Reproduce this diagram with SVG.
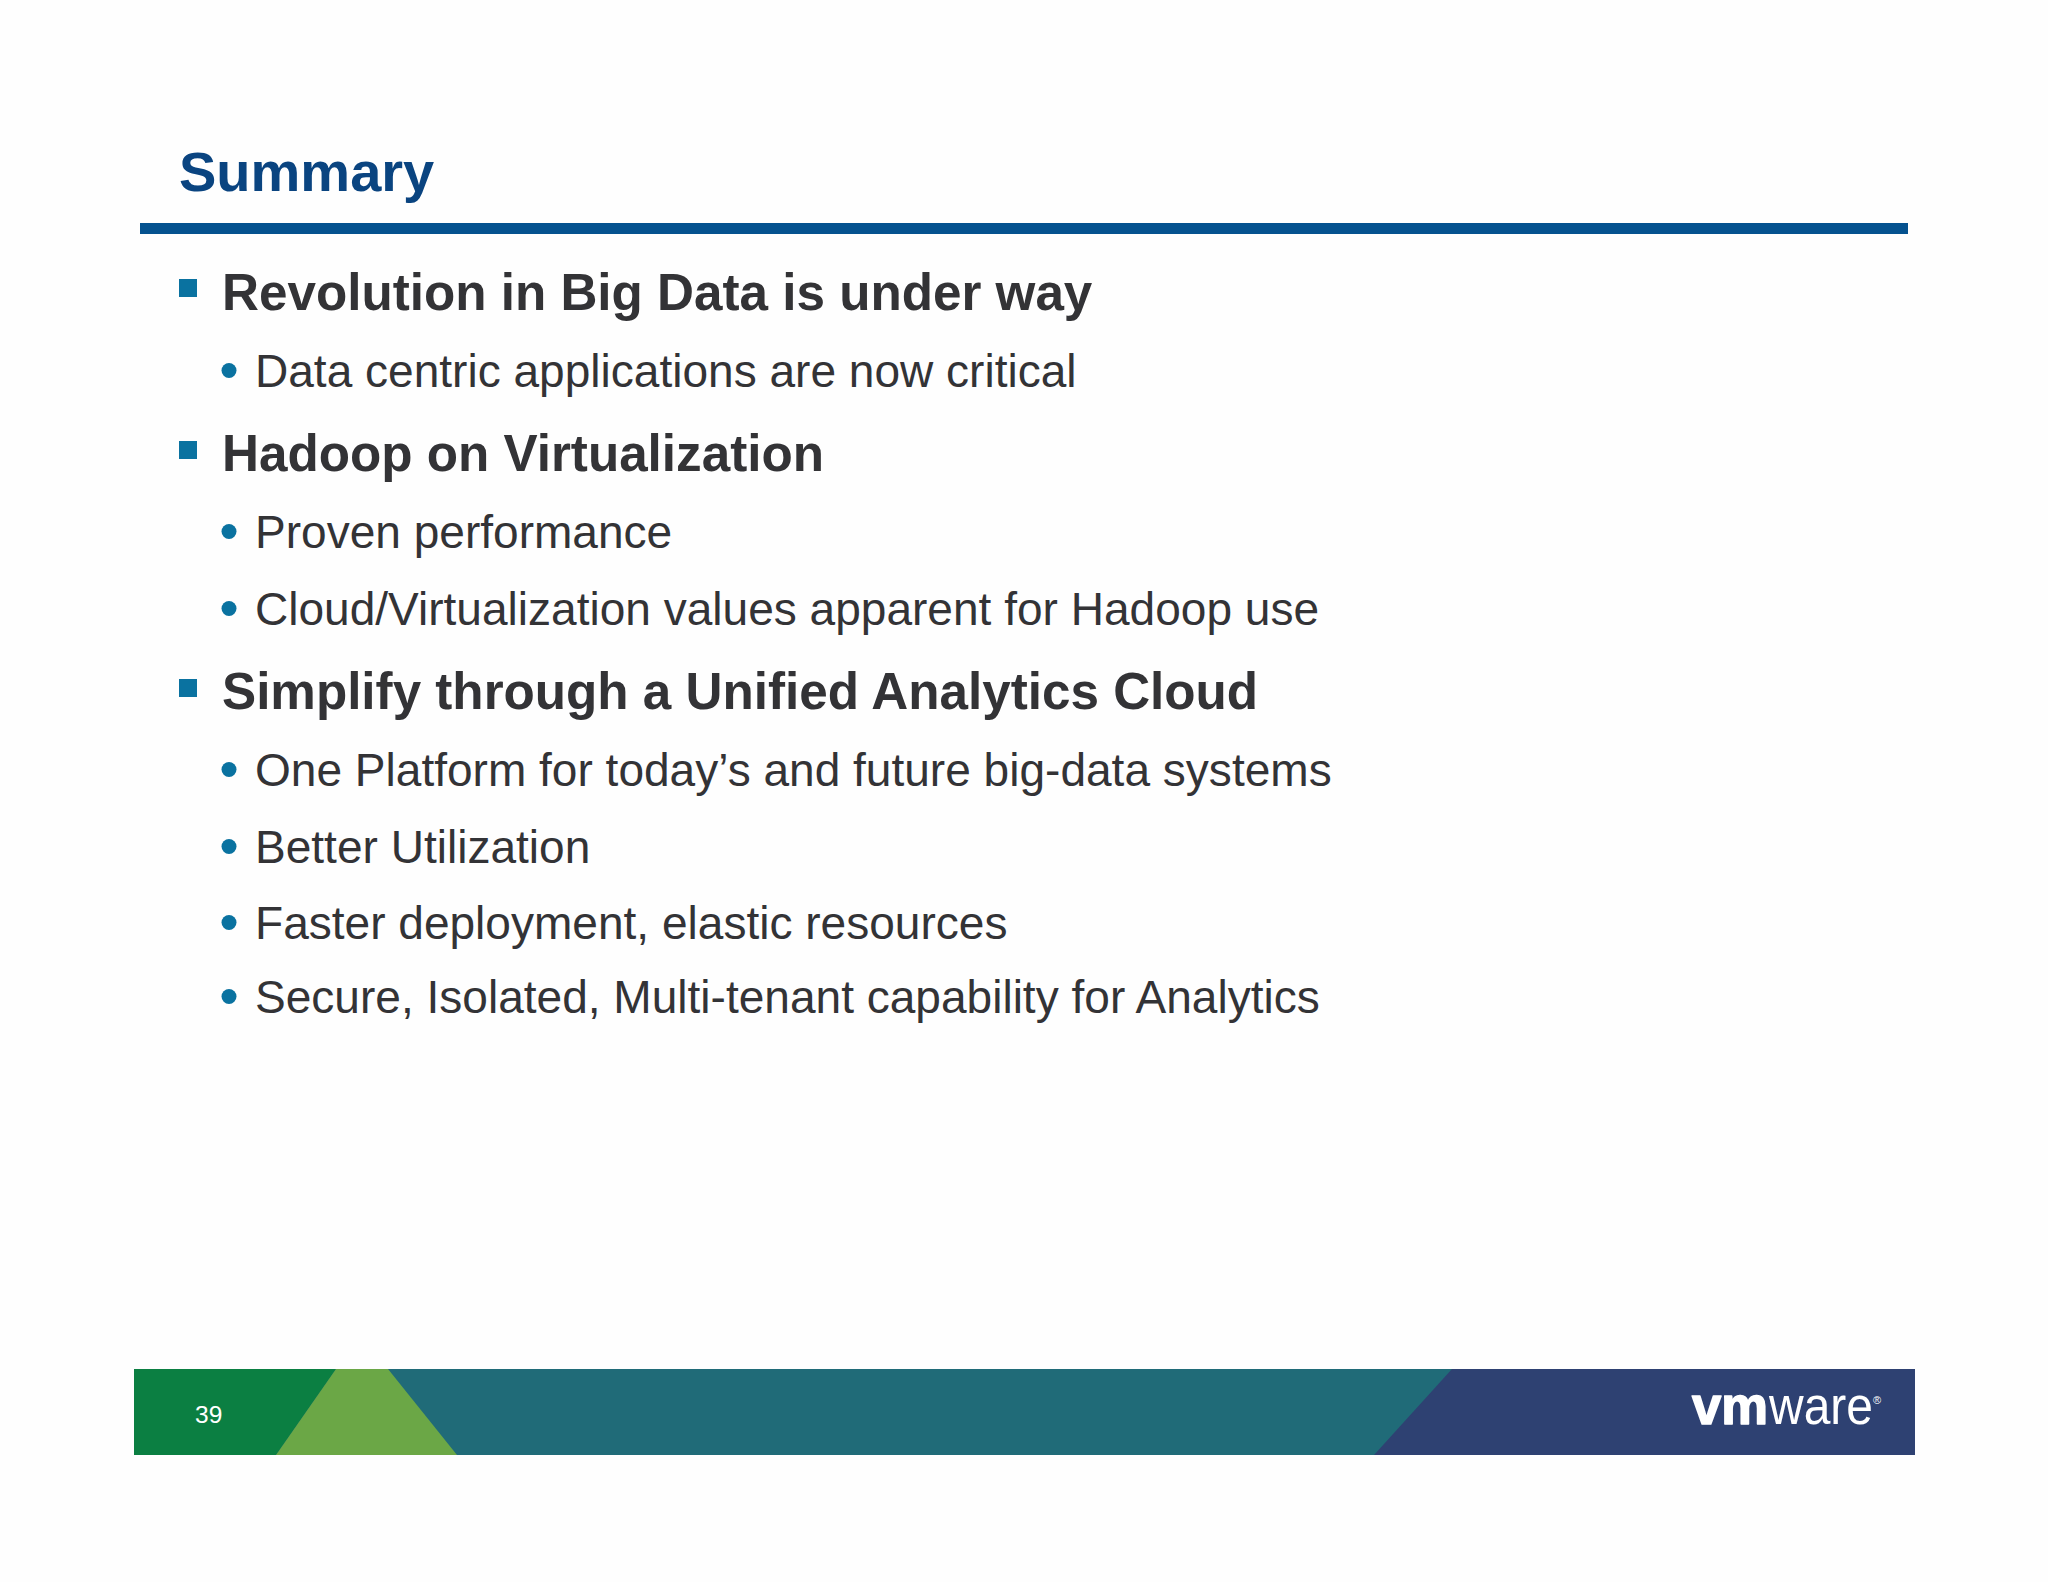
<svg xmlns="http://www.w3.org/2000/svg" width="2048" height="1582" viewBox="0 0 2048 1582">
<style>
text{font-family:"Liberation Sans",Arial,sans-serif}
.h{font-size:51.2px;font-weight:700;fill:#333336}
.b{font-size:46.05px;fill:#333336}
.s{fill:#0a72a0}
</style>
<rect width="2048" height="1582" fill="#fefefe"/>
<g id="title"><text x="179" y="191" font-size="56" font-weight="700" fill="#0a4480">Summary</text><rect x="140" y="223" width="1768" height="11" fill="#05528f"/></g>
<g id="bullets">
<rect class="s" x="179" y="279" width="18" height="18"/><text class="h" x="222" y="310">Revolution in Big Data is under way</text>
<circle class="s" cx="229" cy="370.5" r="7.5"/><text class="b" x="255" y="387">Data centric applications are now critical</text>
<rect class="s" x="179" y="441" width="18" height="18"/><text class="h" x="222" y="471">Hadoop on Virtualization</text>
<circle class="s" cx="229" cy="531.5" r="7.5"/><text class="b" x="255" y="548">Proven performance</text>
<circle class="s" cx="229" cy="608.5" r="7.5"/><text class="b" x="255" y="625">Cloud/Virtualization values apparent for Hadoop use</text>
<rect class="s" x="179" y="679" width="18" height="18"/><text class="h" x="222" y="709">Simplify through a Unified Analytics Cloud</text>
<circle class="s" cx="229" cy="769.5" r="7.5"/><text class="b" x="255" y="786">One Platform for today’s and future big-data systems</text>
<circle class="s" cx="229" cy="846.5" r="7.5"/><text class="b" x="255" y="863">Better Utilization</text>
<circle class="s" cx="229" cy="922.5" r="7.5"/><text class="b" x="255" y="939">Faster deployment, elastic resources</text>
<circle class="s" cx="229" cy="996.5" r="7.5"/><text class="b" x="255" y="1013">Secure, Isolated, Multi-tenant capability for Analytics</text>
</g>
<g id="footer">
<rect x="134" y="1369" width="1781" height="86" fill="#206b78"/>
<polygon points="134,1369 336,1369 276,1455 134,1455" fill="#0b7f42"/>
<polygon points="336,1369 388,1369 457,1455 276,1455" fill="#6ba746"/>
<polygon points="1452,1369 1915,1369 1915,1455 1374,1455" fill="#2e4172"/>
<text x="195" y="1423" font-size="24.5" fill="#fff">39</text>
<text y="1424" font-size="51" fill="#fff"><tspan x="1692" textLength="76" lengthAdjust="spacingAndGlyphs" font-weight="700" stroke="#fff" stroke-width="1.5" stroke-linejoin="round">vm</tspan><tspan x="1769" textLength="104" lengthAdjust="spacingAndGlyphs">ware</tspan><tspan x="1873" y="1404" font-size="11">®</tspan></text>
</g>
</svg>
